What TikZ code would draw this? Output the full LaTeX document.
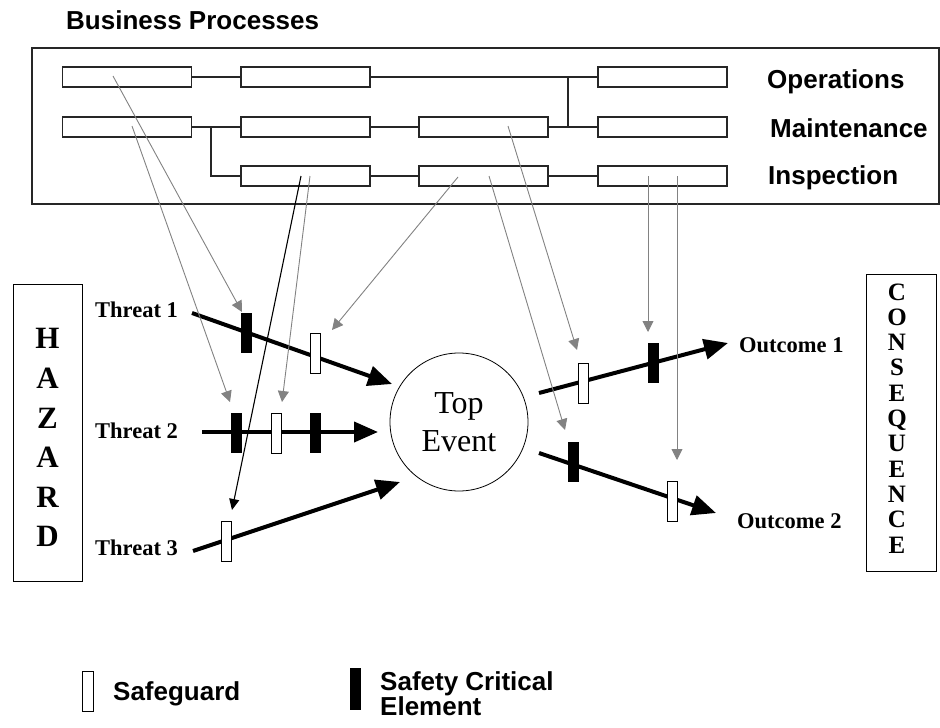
\documentclass[tikz,border=0pt]{standalone}
\usepackage{fontspec}
\setmainfont{Liberation Serif}
\setsansfont{Liberation Sans}
\usetikzlibrary{arrows.meta}
\definecolor{gline}{RGB}{130,130,130}
\begin{document}
\begin{tikzpicture}[x=1pt,y=-1pt,
  bp/.style={draw=black!85, line width=1.3pt, minimum width=129pt, minimum height=20pt, inner sep=0pt},
  link/.style={draw=black!85, line width=1.2pt},
  lbl/.style={font=\sffamily\bfseries\fontsize{26}{30}\selectfont, anchor=base west, inner sep=0pt},
  thr/.style={font=\bfseries\fontsize{22.5}{27}\selectfont, anchor=base west, inner sep=0pt},
  big/.style={font=\bfseries\fontsize{31}{31}\selectfont, anchor=base, inner sep=0pt},
  cons/.style={font=\bfseries\fontsize{25}{25}\selectfont, anchor=base, inner sep=0pt},
  sg/.style={draw=black, fill=white, line width=0.9pt, minimum width=10pt, minimum height=40pt, inner sep=0pt},
  sce/.style={fill=black, minimum width=11pt, minimum height=40pt, inner sep=0pt},
  thick arrow/.style={draw=black, line width=4pt, -{Triangle[length=24pt,width=20pt]}},
  garrow/.style={draw=gline, line width=0.9pt, -{Triangle[length=11pt,width=11pt]}},
  barrow/.style={draw=black, line width=1.1pt, -{Triangle[length=11pt,width=10pt]}}
]
\useasboundingbox (0,0) rectangle (940,728);

% title and process frame
\node[lbl] (title) at (66,29) {Business Processes};
\node[draw=black!85, line width=1.3pt, minimum width=907pt, minimum height=156pt, inner sep=0pt] (frame) at (485.5,126) {};

% process boxes
\node[bp] (o1) at (127,77) {};
\node[bp] (o2) at (305.5,77) {};
\node[bp] (o4) at (662.5,77) {};
\node[bp] (m1) at (127,127) {};
\node[bp] (m2) at (305.5,127) {};
\node[bp] (m3) at (483.5,127) {};
\node[bp] (m4) at (662.5,127) {};
\node[bp] (i2) at (305.5,176) {};
\node[bp] (i3) at (483.5,176) {};
\node[bp] (i4) at (662.5,176) {};

\coordinate (j1) at (568,77);
\coordinate (j2) at (568,127);
\coordinate (j3) at (211,127);
\coordinate (j4) at (211,176);
\draw[link] (o1.east) -- (o2.west);
\draw[link] (o2.east) -- (o4.west);
\draw[link] (j1) -- (j2);
\draw[link] (m1.east) -- (m2.west);
\draw[link] (m2.east) -- (m3.west);
\draw[link] (m3.east) -- (m4.west);
\draw[link] (j3) -- (j4) -- (i2.west);
\draw[link] (i2.east) -- (i3.west);
\draw[link] (i3.east) -- (i4.west);

\node[lbl] (ops) at (767,88) {Operations};
\node[lbl] (mnt) at (770,137) {Maintenance};
\node[lbl] (ins) at (768,184) {Inspection};

% hazard box
\node[draw=black, line width=1pt, minimum width=69pt, minimum height=297pt, inner sep=0pt] (hazard) at (47.5,432.5) {};
\foreach \l/\y in {H/348, A/388, Z/428, A/467, R/507, D/546}
  \node[big] at (47.5,\y) {\l};

% consequence box
\node[draw=black, line width=1pt, minimum width=70pt, minimum height=297pt, inner sep=0pt] (conseq) at (901,422.5) {};
\foreach \l [count=\i from 0] in {C,O,N,S,E,Q,U,E,N,C,E}
  \node[cons] at (897,300+25.3*\i) {\l};

% threats and outcomes
\node[thr] (t1) at (95,317) {Threat 1};
\node[thr] (t2) at (95,438) {Threat 2};
\node[thr] (t3) at (95,555) {Threat 3};
\node[thr] (oc1) at (739,352) {Outcome 1};
\node[thr] (oc2) at (737,528) {Outcome 2};

% top event
\node[draw=black, line width=0.8pt, circle, minimum size=138pt, inner sep=0pt, align=center,
      font=\fontsize{32}{38}\selectfont] (top) at (459,422) {Top\\Event};

% thick arrows
\coordinate (a1s) at (192,313);  \coordinate (a1e) at (392,384);
\coordinate (a2s) at (202,432);  \coordinate (a2e) at (378,432);
\coordinate (a3s) at (193,551);  \coordinate (a3e) at (400,482);
\coordinate (b1s) at (539,393);  \coordinate (b1e) at (728,343);
\coordinate (b2s) at (539,453);  \coordinate (b2e) at (716,513);
\draw[thick arrow] (a1s) -- (a1e);
\draw[thick arrow] (a2s) -- (a2e);
\draw[thick arrow] (a3s) -- (a3e);
\draw[thick arrow] (b1s) -- (b1e);
\draw[thick arrow] (b2s) -- (b2e);

% barriers
\node[sce] (t1x) at (246,333) {};
\node[sg]  (t1s) at (315.5,353) {};
\node[sce] (t2x) at (236.5,433) {};
\node[sg]  (t2s) at (276,433) {};
\node[sce] (t2y) at (315,433) {};
\node[sg]  (t3s) at (226,541) {};
\node[sg]  (o1s) at (583,383) {};
\node[sce] (o1x) at (653,363) {};
\node[sce] (o2x) at (573.5,462) {};
\node[sg]  (o2s) at (672.5,501.5) {};

% links from processes to barriers
\coordinate (s1) at (113,76);   \coordinate (e1) at (242,312);
\coordinate (s2) at (132,126);  \coordinate (e2) at (230,402);
\coordinate (s3) at (301,176);  \coordinate (e3) at (232,510);
\coordinate (s4) at (310,176);  \coordinate (e4) at (282,402);
\coordinate (s5) at (458,177);  \coordinate (e5) at (332,330);
\coordinate (s6) at (508,126);  \coordinate (e6) at (577,350);
\coordinate (s7) at (489,176);  \coordinate (e7) at (565,430);
\coordinate (s8) at (648,176);  \coordinate (e8) at (648,332);
\coordinate (s9) at (677,176);  \coordinate (e9) at (677,460);
\draw[garrow] (s1) -- (e1);
\draw[garrow] (s2) -- (e2);
\draw[barrow] (s3) -- (e3);
\draw[garrow] (s4) -- (e4);
\draw[garrow] (s5) -- (e5);
\draw[garrow] (s6) -- (e6);
\draw[garrow] (s7) -- (e7);
\draw[garrow] (s8) -- (e8);
\draw[garrow] (s9) -- (e9);

% legend
\node[sg, minimum width=11pt] (legsg) at (87.5,691) {};
\node[lbl] (legsgt) at (113,700) {Safeguard};
\node[sce, minimum height=42pt] (legsce) at (355.5,689) {};
\node[lbl, align=left, anchor=north west, font=\sffamily\bfseries\fontsize{26}{25}\selectfont] (legscet) at (380,671) {Safety Critical\\Element};
\end{tikzpicture}
\end{document}
